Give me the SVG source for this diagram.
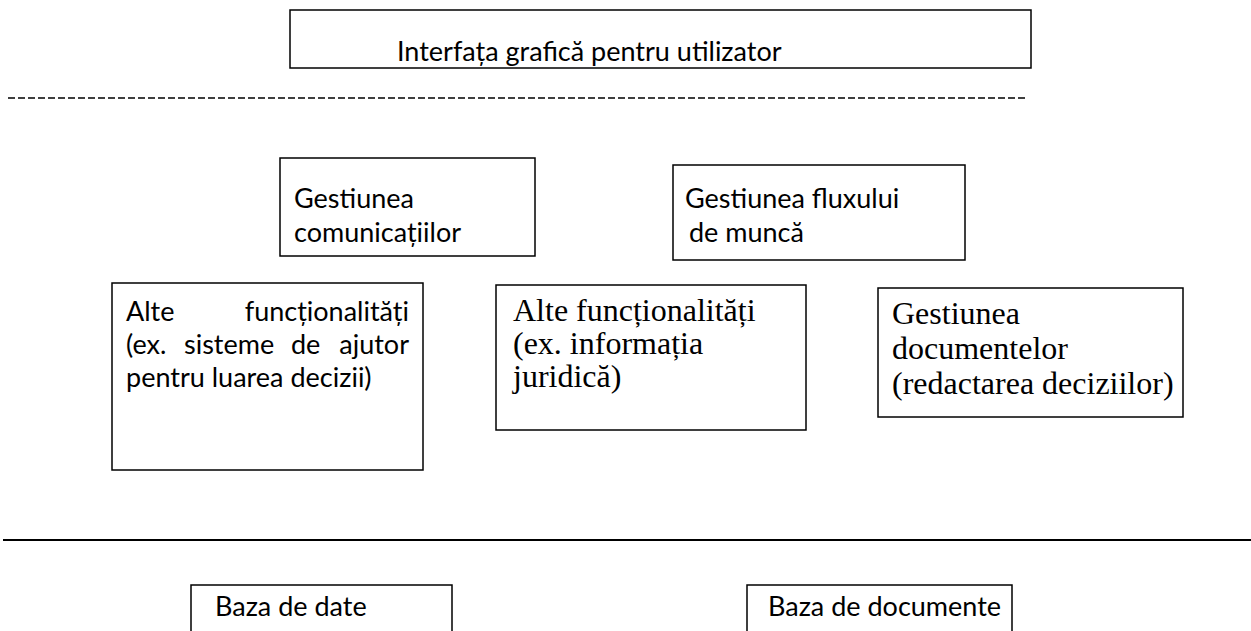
<svg xmlns="http://www.w3.org/2000/svg" width="1251" height="631" viewBox="0 0 1251 631">
<style>
.box{fill:#fff;stroke:#000;stroke-width:1.5}
.s{font-family:Lato,"Open Sans","Liberation Sans",sans-serif;font-size:27px;fill:#000}
.t{font-family:"Liberation Serif","Times New Roman",serif;font-size:32px;fill:#000}
</style>
<rect width="1251" height="631" fill="#fff"/>
<g id="connectors">
<line x1="8" y1="98" x2="1026" y2="98" stroke="#000" stroke-width="1.3" stroke-dasharray="7,3"/>
<line x1="3" y1="540" x2="1251" y2="540" stroke="#000" stroke-width="2"/>
</g>
<g id="gui">
<rect class="box" x="290" y="10" width="741" height="58"/>
<text class="s" x="397" y="61">Interfața grafică pentru utilizator</text>
</g>
<g id="comunicatii">
<rect class="box" x="280" y="158" width="255" height="98"/>
<text class="s" x="294" y="208">Gestiunea</text>
<text class="s" x="294" y="242">comunicațiilor</text>
</g>
<g id="flux">
<rect class="box" x="673" y="165" width="292" height="95"/>
<text class="s" x="685" y="208">Gestiunea fluxului</text>
<text class="s" x="689" y="242">de muncă</text>
</g>
<g id="alte1">
<rect class="box" x="112" y="283" width="311" height="187"/>
<text class="s" x="126" y="321">Alte</text>
<text class="s" x="409" y="321" text-anchor="end">funcționalități</text>
<text class="s" y="354"><tspan x="126">(ex.</tspan><tspan x="184">sisteme</tspan><tspan x="291">de</tspan><tspan x="409" text-anchor="end">ajutor</tspan></text>
<text class="s" x="126" y="387">pentru luarea decizii)</text>
</g>
<g id="alte2">
<rect class="box" x="496" y="285" width="310" height="145"/>
<text class="t" x="513" y="321">Alte funcționalități</text>
<text class="t" x="513" y="354">(ex. informația</text>
<text class="t" x="513" y="387">juridică)</text>
</g>
<g id="documente">
<rect class="box" x="878" y="288" width="305" height="129"/>
<text class="t" x="892" y="324">Gestiunea</text>
<text class="t" x="892" y="359">documentelor</text>
<text class="t" x="892" y="394">(redactarea deciziilor)</text>
</g>
<g id="bazadate">
<path class="box" d="M191,640 V585 H452 V640"/>
<text class="s" x="215" y="616">Baza de date</text>
</g>
<g id="bazadoc">
<path class="box" d="M747,640 V585 H1012 V640"/>
<text class="s" x="768" y="616">Baza de documente</text>
</g>
</svg>
